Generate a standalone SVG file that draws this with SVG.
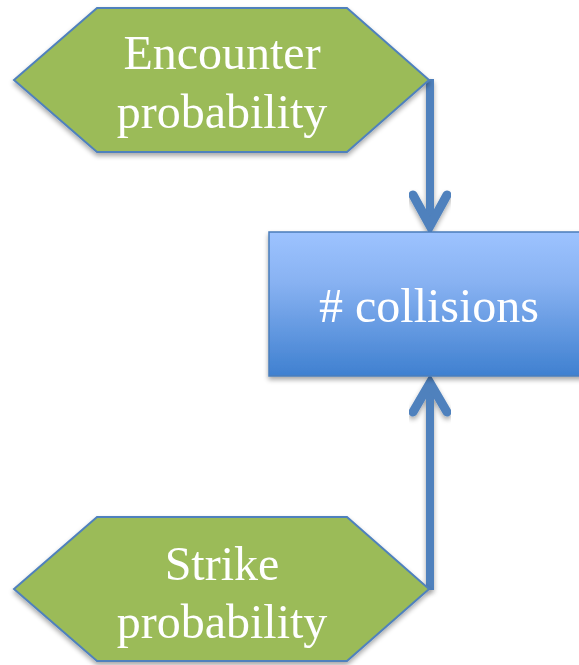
<svg xmlns="http://www.w3.org/2000/svg" width="579" height="665" viewBox="0 0 579 665">
  <defs>
    <linearGradient id="boxFill" x1="0" y1="0" x2="0" y2="1">
      <stop offset="0" stop-color="#9DC3FF"/>
      <stop offset="0.35" stop-color="#88B2F2"/>
      <stop offset="1" stop-color="#3F80D0"/>
    </linearGradient>
    <filter id="shadow" x="-10%" y="-10%" width="120%" height="130%">
      <feGaussianBlur in="SourceAlpha" stdDeviation="2.5"/>
      <feOffset dx="0" dy="3" result="blur"/>
      <feComponentTransfer><feFuncA type="linear" slope="0.35"/></feComponentTransfer>
      <feMerge><feMergeNode/><feMergeNode in="SourceGraphic"/></feMerge>
    </filter>
  </defs>
  <style>
    .hex { fill: #9BBB59; stroke: #4F81BD; stroke-width: 2; stroke-linejoin: miter; }
    .box { fill: url(#boxFill); stroke: #4A7EBB; stroke-width: 1.5; }
    .label { font-family: "Liberation Serif", "Times New Roman", serif; font-size: 48px; fill: #FFFFFF; text-anchor: middle; }
    .wire { fill: none; stroke: #4F81BD; stroke-width: 8; }
    .head { fill: none; stroke: #4F81BD; stroke-width: 9; stroke-linecap: round; stroke-linejoin: miter; }
  </style>

  <!-- connectors -->
  <g id="connectors" filter="url(#shadow)">
    <line class="wire" x1="430" y1="79" x2="430" y2="226"/>
    <polyline class="head" points="413,195 430,226 447,195"/>
    <line class="wire" x1="430" y1="590" x2="430" y2="383"/>
    <polyline class="head" points="413,412 430,383 447,412"/>
  </g>

  <!-- outcome node -->
  <g id="collisions" filter="url(#shadow)">
    <rect class="box" x="269" y="232" width="330" height="144"/>
    <text class="label" x="429" y="322"># collisions</text>
  </g>

  <!-- encounter probability node -->
  <g id="encounter" filter="url(#shadow)">
    <polygon class="hex" points="14,80 97,8 347,8 429,80 347,152 97,152"/>
    <text class="label" x="222" y="69">Encounter</text>
    <text class="label" x="222" y="128">probability</text>
  </g>

  <!-- strike probability node -->
  <g id="strike" filter="url(#shadow)">
    <polygon class="hex" points="14,589 97,517 347,517 429,589 347,661 97,661"/>
    <text class="label" x="222" y="580">Strike</text>
    <text class="label" x="222" y="638">probability</text>
  </g>
</svg>
